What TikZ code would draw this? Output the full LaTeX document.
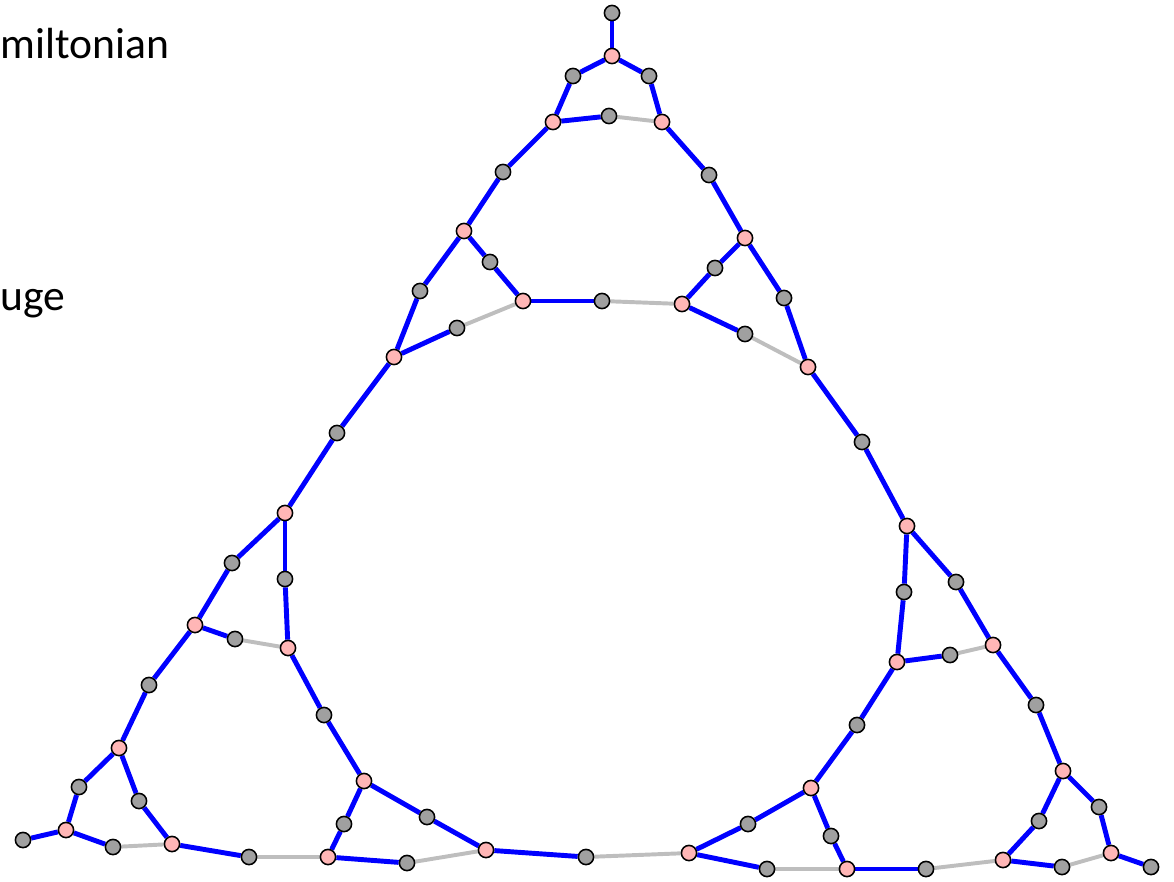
\documentclass[tikz,border=0pt]{standalone}
\usepackage{fontspec}
\setmainfont{Carlito}
\usepackage{tikz}
\usetikzlibrary{backgrounds}
\definecolor{vpink}{RGB}{255,182,182}
\definecolor{vgray}{RGB}{160,160,160}
\definecolor{egray}{RGB}{190,190,190}
\tikzset{
	pvert/.style={circle,draw=black,fill=vpink,line width=1.1pt,minimum size=0.38cm,inner sep=0pt},
	gvert/.style={circle,draw=black,fill=vgray,line width=1.1pt,minimum size=0.38cm,inner sep=0pt},
	bedge/.style={draw=blue,line width=3.5pt},
	gedge/.style={draw=egray,line width=2.8pt},
	lbl/.style={inner sep=0pt,anchor=base west,font=\fontsize{31}{36}\selectfont}
}
\begin{document}
\begin{tikzpicture}[x=0.025cm,y=-0.025cm]
	\useasboundingbox (0,0) rectangle (1174,881);
	\node[lbl] (ham) at (0,58) {miltonian};
	\node[lbl] (gau) at (0,310) {uge};
	% vertices of degree three
	\foreach \n/\x/\y in {t1/612/56,t4/553/122,t6/662/122,a2/464/231,b2/745/238,
			a5/523/301,b5/682/304,a7/394/357,b7/808/367,l2/285/513,r2/907/526,
			l5/195/625,l6/288/648,r5/993/645,r6/897/662,l10/119/748,l11/364/781,
			r10/1063/771,r11/811/788,l14/66/830,l16/172/844,l20/328/857,l22/486/850,
			r22/689/853,r20/847/869,r16/1003/860,r14/1111/853}
		\node[pvert] (\n) at (\x,\y) {};
	% subdividing vertices
	\foreach \n/\x/\y in {t0/612/13,t2/573/76,t3/649/76,t5/609/116,a1/503/172,
			b1/709/175,a3/490/262,b3/715/268,a4/420/291,b4/784/298,m1/602/301,
			a6/457/328,b6/745/334,l1/337/433,r1/862/442,l3/232/563,l4/285/579,
			r3/956/582,r4/904/592,l7/235/639,r7/950/655,l8/149/685,r8/1036/705,
			l9/324/715,r9/857/725,l12/79/787,l13/139/801,r12/1099/807,l18/344/824,
			l19/427/817,r18/748/824,r13/1039/821,r19/831/836,l15/23/840,l17/113/847,
			l21/249/857,l23/407/863,m2/586/857,r23/767/869,r21/926/869,r17/1062/867,
			r15/1151/867}
		\node[gvert] (\n) at (\x,\y) {};
	\begin{pgfonlayer}{background}
		% the cycle
		\foreach \a/\b in {t0/t1,t1/t2,t1/t3,t2/t4,t3/t6,t4/t5,t4/a1,a1/a2,t6/b1,
				b1/b2,a2/a3,a3/a5,a2/a4,a4/a7,a5/m1,b2/b3,b3/b5,b2/b4,b4/b7,a7/a6,
				b5/b6,a7/l1,l1/l2,b7/r1,r1/r2,l2/l3,l3/l5,l2/l4,l4/l6,l5/l7,l5/l8,
				l8/l10,l6/l9,l9/l11,l10/l12,l12/l14,l10/l13,l13/l16,l14/l15,l14/l17,
				l11/l18,l18/l20,l11/l19,l19/l22,l16/l21,l20/l23,l22/m2,r2/r3,r3/r5,
				r2/r4,r4/r6,r6/r7,r5/r8,r8/r10,r6/r9,r9/r11,r10/r12,r12/r14,r10/r13,
				r13/r16,r14/r15,r16/r17,r11/r18,r18/r22,r11/r19,r19/r20,r20/r21,r22/r23}
			\draw[bedge] (\a) -- (\b);
		% left out
		\foreach \a/\b in {t5/t6,m1/b5,a6/a5,b6/b7,l7/l6,l17/l16,l21/l20,l23/l22,
				m2/r22,r7/r5,r23/r20,r21/r16,r17/r14}
			\draw[gedge] (\a) -- (\b);
	\end{pgfonlayer}
\end{tikzpicture}
\end{document}
